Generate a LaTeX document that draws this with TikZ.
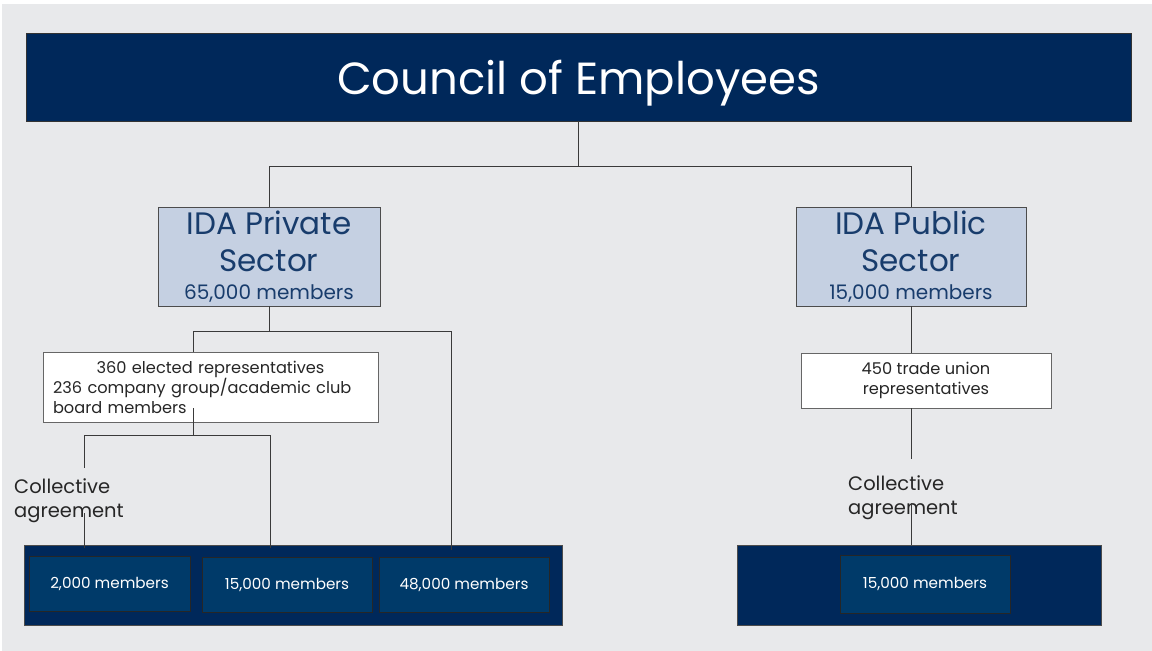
\documentclass[tikz,border=0pt]{standalone}
\usepackage{fontspec}
\setmainfont{Poppins}
\usetikzlibrary{calc,positioning}
\definecolor{pagebg}{HTML}{E8E9EB}
\definecolor{navy}{HTML}{00285A}
\definecolor{navymid}{HTML}{003A69}
\definecolor{paleblue}{HTML}{C5D0E2}
\definecolor{inkblue}{HTML}{183C6C}
\definecolor{wire}{HTML}{3A3A3A}
\tikzset{
  banner/.style={
    draw=black!80,
    fill=navy,
    text=white,
    inner sep=0pt
  },
  sector/.style={
    draw=black!70,
    fill=paleblue,
    text=inkblue,
    align=center,
    inner sep=0pt,
    minimum width=222pt,
    minimum height=99pt,
    font=\bigline
  },
  repbox/.style={
    draw=black!60,
    fill=white,
    text=black!85,
    inner sep=0pt,
    font=\fontsize{16.2}{20}\selectfont
  },
  tray/.style={
    draw=black!70,
    fill=navy,
    inner sep=0pt,
    minimum height=80pt
  },
  members/.style={
    draw=black!85,
    fill=navymid,
    text=white,
    inner sep=0pt,
    minimum height=55pt,
    font=\fontsize{15.2}{17}\selectfont
  },
  agree/.style={
    text=black!85,
    align=left,
    inner sep=0pt,
    anchor=north west,
    font=\fontsize{19.5}{24}\selectfont
  },
  link/.style={
    draw=wire,
    line width=0.8pt
  }
}
\newcommand{\bigline}{\fontsize{31}{37}\selectfont}
\newcommand{\smallline}{\fontsize{20}{24}\selectfont}

\begin{document}
\begin{tikzpicture}[x=1pt, y=-1pt]
  \fill[white] (0,0) rectangle (1152,651);
  \fill[pagebg] (2,4) rectangle (1152,651);
  \useasboundingbox (0,0) rectangle (1152,651);

  % top banner
  \node[banner, minimum width=1105pt, minimum height=88pt, text depth=0pt,
    font=\fontsize{45}{48}\selectfont] (council) at (578.5,77) {Council of Employees};

  % the two sectors
  \node[sector] (private) at (269,256.5) {\bigline IDA Private\\\bigline Sector\\[-9pt]
    \smallline 65,000 members};
  \node[sector, minimum width=230pt] (public) at (911,256.5) {\bigline IDA Public\\\bigline Sector\\[-9pt]
    \smallline 15,000 members};

  % representatives
  \node[repbox, minimum width=335pt, minimum height=70pt,
    text width=315pt, align=left] (privreps) at (210.5,387) {%
    \makebox[\linewidth]{360 elected representatives}\\
    236 company group/academic club\\
    board members};
  \node[repbox, minimum width=250pt, minimum height=55pt,
    align=center] (pubreps) at (926,380.5) {450 trade union\\representatives};

  % member groups
  \node[tray, minimum width=538pt] (privtray) at (293,585) {};
  \node[members, minimum width=161pt] (m2k) at (109.5,584) {2,000 members};
  \node[members, minimum width=170pt] (m15k) at (287,585) {15,000 members};
  \node[members, minimum width=170pt] (m48k) at (464,585) {48,000 members};
  \node[tray, minimum width=364pt] (pubtray) at (919,585.5) {};
  \node[members, minimum width=170pt, minimum height=58pt] (mpub) at (925,584) {15,000 members};

  \node[agree] (caprivate) at (14,478) {Collective\\agreement};
  \node[agree] (capublic) at (848,475) {Collective\\agreement};

  % wiring
  \coordinate (topjoin) at ($(council.south)+(0,45)$);
  \draw[link] (council.south) -- (topjoin);
  \draw[link] (topjoin) -| (private.north);
  \draw[link] (topjoin) -| (public.north);

  \coordinate (privjoin) at ($(private.south)+(0,25)$);
  \coordinate (to48k) at (451,550);
  \draw[link] (private.south) -- (privjoin);
  \draw[link] (privjoin) -| ([xshift=-17.5pt]privreps.north);
  \draw[link] (privjoin) -| (to48k);

  \coordinate (repout) at (193,408);
  \coordinate (repjoin) at (193,435);
  \coordinate (to2kup) at (84,468);
  \coordinate (to2klow) at (84,513);
  \coordinate (to2k) at (84,548);
  \coordinate (to15k) at (270,548);
  \draw[link] (repout) -- (repjoin);
  \draw[link] (repjoin) -| (to2kup);
  \draw[link] (repjoin) -| (to15k);
  \draw[link] (to2klow) -- (to2k);

  \coordinate (pubup) at (911,459);
  \coordinate (publow) at (911,503);
  \draw[link] (public.south) -- (public.south |- pubreps.north);
  \draw[link] (public.south |- pubreps.south) -- (pubup);
  \draw[link] (publow) -- (public.south |- pubtray.north);
\end{tikzpicture}
\end{document}
